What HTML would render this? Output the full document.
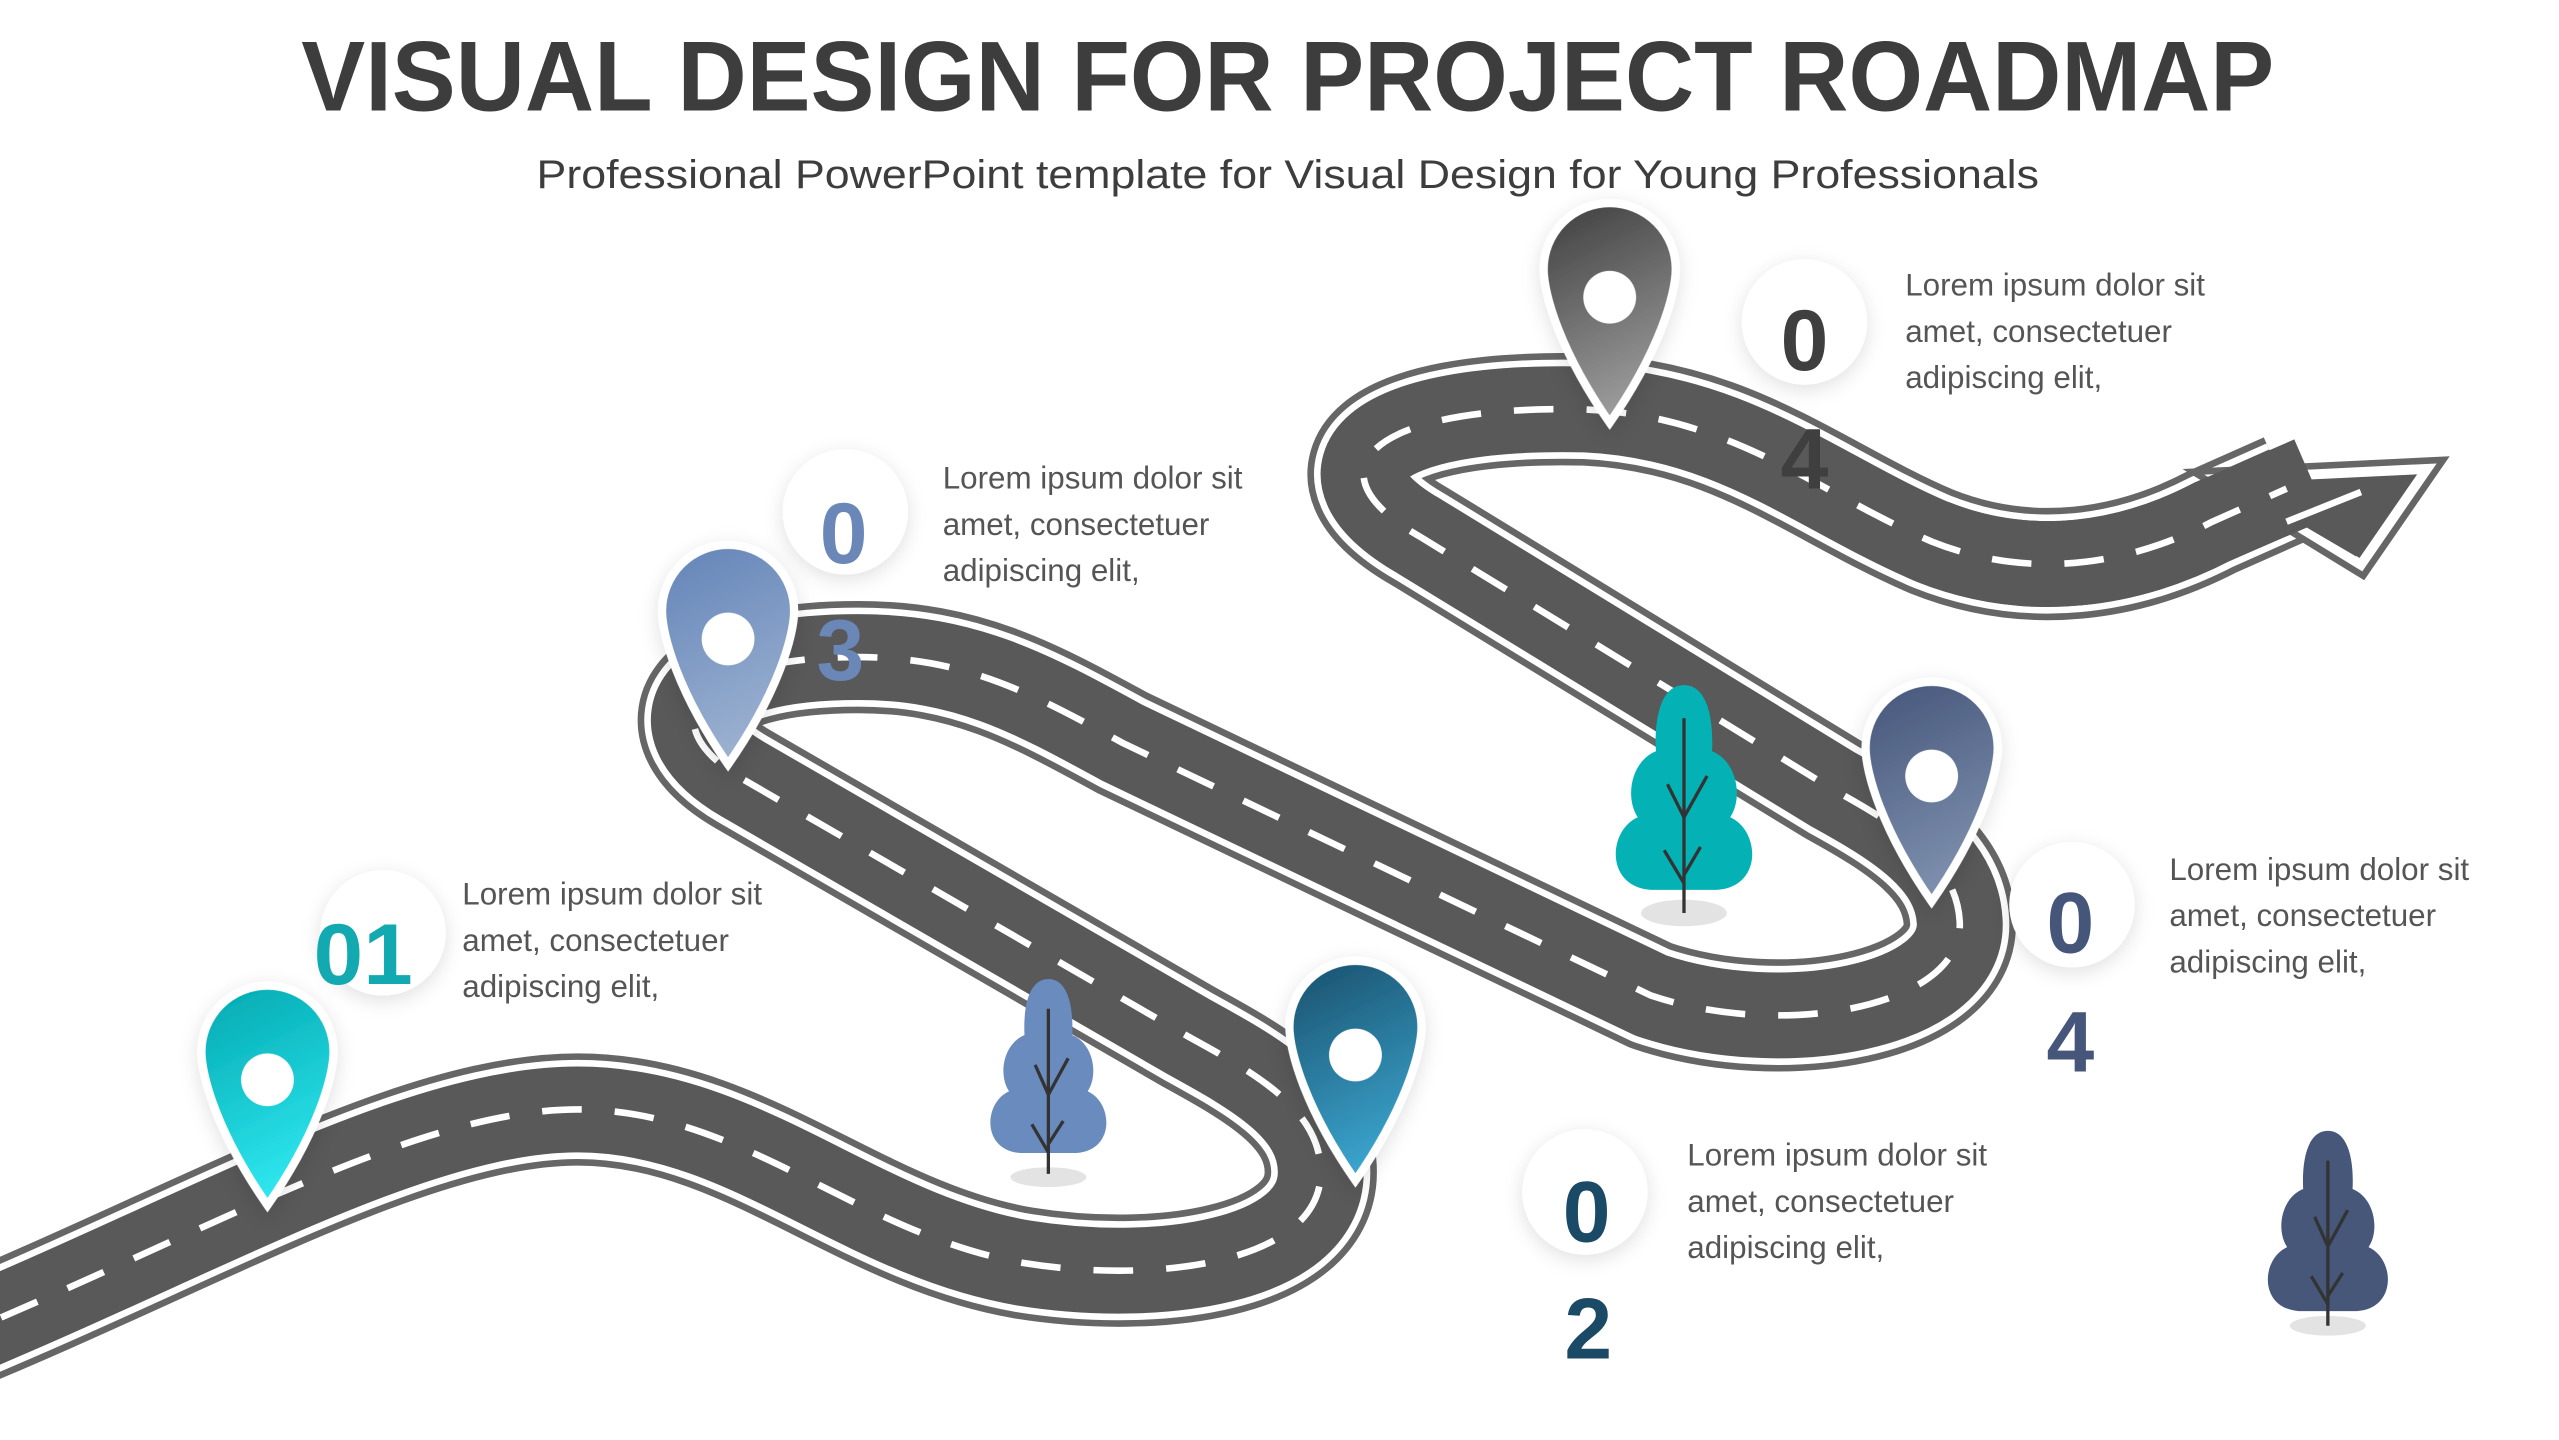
<!DOCTYPE html>
<html><head><meta charset="utf-8"><style>
html,body{margin:0;padding:0;background:#fff;}
svg{display:block;}
</style></head><body>
<svg width="2559" height="1440" viewBox="0 0 1550 872.2" xmlns="http://www.w3.org/2000/svg" font-family="Liberation Sans, sans-serif">
<defs>
<linearGradient id="g1" x1="0" y1="0" x2="0.3" y2="1"><stop offset="0" stop-color="#00a8b0"/><stop offset="1" stop-color="#2fe6ee"/></linearGradient>
<linearGradient id="g2" x1="0" y1="0" x2="0.3" y2="1"><stop offset="0" stop-color="#1a4f6c"/><stop offset="1" stop-color="#3aa3cc"/></linearGradient>
<linearGradient id="g3" x1="0" y1="0" x2="0.3" y2="1"><stop offset="0" stop-color="#6384b8"/><stop offset="1" stop-color="#9ab0d0"/></linearGradient>
<linearGradient id="g4" x1="0" y1="0" x2="0.3" y2="1"><stop offset="0" stop-color="#3e3e3e"/><stop offset="1" stop-color="#9a9a9a"/></linearGradient>
<linearGradient id="g5" x1="0" y1="0" x2="0.3" y2="1"><stop offset="0" stop-color="#45557a"/><stop offset="1" stop-color="#7d8fad"/></linearGradient>
<filter id="sh" x="-50%" y="-50%" width="200%" height="200%"><feDropShadow dx="0" dy="3" stdDeviation="6" flood-color="#000" flood-opacity="0.12"/></filter>
<path id="road" d="M -40 815 C 120 750, 250 672, 350 672 C 450 672, 520 748, 620 765 C 700 778, 800 765, 800 710 C 800 672, 760 650, 720 628 L 450 472 C 395 440, 415 398, 520 398 C 585 398, 625 420, 680 450 L 1000 603 C 1080 630, 1190 610, 1187 558 C 1185 522, 1150 500, 1110 478 L 860 325 C 790 285, 830 245, 960 248 C 1050 252, 1100 298, 1170 328 C 1230 352, 1290 342, 1340 316 L 1385 296"/>
<path id="tail" d="M 1170 328 C 1230 352, 1290 342, 1340 316 L 1400 290"/>
<path id="tree" d="M0,0 C14,0 18,20 17,40 C32,46 36,68 28,80 C46,88 48,122 20,124 L-20,124 C-48,122 -46,88 -28,80 C-36,68 -32,46 -17,40 C-18,20 -14,0 0,0Z"/>
<path id="pin" d="M0,38 C-30,-5 -40,-40 -40,-55 A40,40 0 1 1 40,-55 C40,-40 30,-5 0,38Z"/>
</defs>

<text x="780" y="67" text-anchor="middle" font-size="60" font-weight="bold" fill="#3d3d3d" textLength="1195" lengthAdjust="spacingAndGlyphs">VISUAL DESIGN FOR PROJECT ROADMAP</text>
<text x="780" y="114" text-anchor="middle" font-size="24" fill="#3d3d3d" textLength="910" lengthAdjust="spacingAndGlyphs">Professional PowerPoint template for Visual Design for Young Professionals</text>

<g fill="none" stroke-linejoin="round">
<use href="#road" stroke="#666" stroke-width="68"/>
<use href="#road" stroke="#fff" stroke-width="60"/>
<use href="#road" stroke="#595959" stroke-width="52"/>
</g>
<!-- Arrowhead -->
<polygon points="1345,290 1470,284 1430,342" fill="#595959" stroke="#666" stroke-width="14" stroke-linejoin="miter"/>
<polygon points="1345,290 1470,284 1430,342" fill="#595959" stroke="#fff" stroke-width="6" stroke-linejoin="miter"/>
<g fill="none">
<use href="#tail" stroke="#595959" stroke-width="52"/>
</g>
<polygon points="1352,293 1462,288 1427,337" fill="#595959"/>
<use href="#road" fill="none" stroke="#fff" stroke-width="4" stroke-dasharray="24 20"/>
<line x1="1385" y1="316" x2="1430" y2="298" stroke="#fff" stroke-width="4"/>

<g transform="translate(1020,415)">
<ellipse cx="0" cy="138" rx="26" ry="8" fill="#e3e3e3"/>
<use href="#tree" fill="#04b2b6"/>
<g stroke="#333" stroke-width="2" fill="none"><path d="M0,20 V138"/><path d="M0,80 L-10,60 M0,80 L14,55 M0,120 L-12,100 M0,115 L10,98"/></g>
</g>
<g transform="translate(635,593)">
<ellipse cx="0" cy="120" rx="23" ry="6" fill="#e3e3e3"/>
<use href="#tree" fill="#6a8bbd" transform="scale(0.85)"/>
<g stroke="#333" stroke-width="2" fill="none"><path d="M0,18 V118"/><path d="M0,70 L-8,52 M0,70 L12,48 M0,105 L-10,88 M0,100 L9,86"/></g>
</g>
<g transform="translate(1410,685)">
<ellipse cx="0" cy="118" rx="23" ry="6" fill="#e3e3e3"/>
<use href="#tree" fill="#46577a" transform="scale(0.88)"/>
<g stroke="#333" stroke-width="2" fill="none"><path d="M0,18 V118"/><path d="M0,70 L-8,52 M0,70 L12,48 M0,105 L-10,88 M0,100 L9,86"/></g>
</g>

<g filter="url(#sh)">
<g transform="translate(162,692)"><use href="#pin" fill="url(#g1)" stroke="#fff" stroke-width="5"/><circle cx="0" cy="-38" r="16" fill="#fff"/></g>
<g transform="translate(821,677)"><use href="#pin" fill="url(#g2)" stroke="#fff" stroke-width="5"/><circle cx="0" cy="-38" r="16" fill="#fff"/></g>
<g transform="translate(441,425)"><use href="#pin" fill="url(#g3)" stroke="#fff" stroke-width="5"/><circle cx="0" cy="-38" r="16" fill="#fff"/></g>
<g transform="translate(975,218)"><use href="#pin" fill="url(#g4)" stroke="#fff" stroke-width="5"/><circle cx="0" cy="-38" r="16" fill="#fff"/></g>
<g transform="translate(1170,508)"><use href="#pin" fill="url(#g5)" stroke="#fff" stroke-width="5"/><circle cx="0" cy="-38" r="16" fill="#fff"/></g>
</g>

<g fill="#fff" filter="url(#sh)">
<circle cx="232" cy="565" r="38"/>
<circle cx="960" cy="722" r="38"/>
<circle cx="512" cy="310" r="38"/>
<circle cx="1093" cy="195" r="38"/>
<circle cx="1255" cy="548" r="38"/>
</g>
<g font-weight="bold" font-size="52" text-anchor="middle">
<text x="220" y="596" fill="#12aab0" textLength="60" lengthAdjust="spacingAndGlyphs">01</text>
<text x="961" y="752" fill="#1b4a66">0</text>
<text x="962" y="823" fill="#1b4a66">2</text>
<text x="511" y="341" fill="#6a87b8">0</text>
<text x="509" y="412" fill="#6a87b8">3</text>
<text x="1093" y="224" fill="#3f3f3f">0</text>
<text x="1093" y="296" fill="#3f3f3f">4</text>
<text x="1254" y="577" fill="#45567a">0</text>
<text x="1254" y="649" fill="#45567a">4</text>
</g>

<g font-size="19" fill="#555">
<text x="280" y="548">Lorem ipsum dolor sit</text><text x="280" y="576">amet, consectetuer</text><text x="280" y="604">adipiscing elit,</text>
<text x="571" y="296">Lorem ipsum dolor sit</text><text x="571" y="324">amet, consectetuer</text><text x="571" y="352">adipiscing elit,</text>
<text x="1154" y="179">Lorem ipsum dolor sit</text><text x="1154" y="207">amet, consectetuer</text><text x="1154" y="235">adipiscing elit,</text>
<text x="1314" y="533">Lorem ipsum dolor sit</text><text x="1314" y="561">amet, consectetuer</text><text x="1314" y="589">adipiscing elit,</text>
<text x="1022" y="706">Lorem ipsum dolor sit</text><text x="1022" y="734">amet, consectetuer</text><text x="1022" y="762">adipiscing elit,</text>
</g>
</svg>
</body></html>
